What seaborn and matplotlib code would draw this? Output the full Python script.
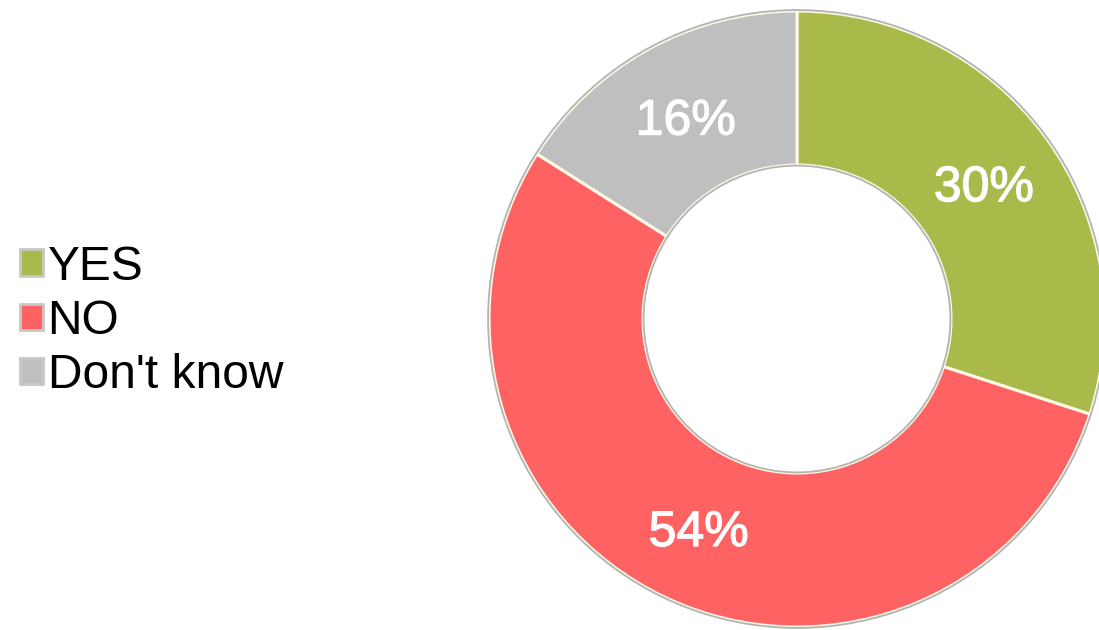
import matplotlib
matplotlib.use("Agg")
import matplotlib.pyplot as plt
import matplotlib.patheffects as pe
from matplotlib.transforms import offset_copy
import seaborn as sns
from matplotlib.patches import Patch, Circle

categories = ["YES", "NO", "Don't know"]
shares = [30, 54, 16]
slice_colors = ["#a9ba4a", "#fe6262", "#bfbfbf"]

sns.set_theme(style="white")
plt.rcParams["font.family"] = ["Liberation Sans", "DejaVu Sans"]

fig = plt.figure(figsize=(10.99, 6.30), dpi=100)
fig.patch.set_facecolor("white")

# donut axes: centre at (797, 319) px, outer radius 308 px
W, H = 1099, 630
cx, cy, R = 797, 319, 308
ax = fig.add_axes([(cx - R) / W, (H - cy - R) / H, 2 * R / W, 2 * R / H])

wedges, texts, autotexts = ax.pie(
    shares,
    colors=slice_colors,
    startangle=90,
    counterclock=False,
    radius=1.0,
    autopct=lambda p: f"{p:.0f}%",
    pctdistance=0.75,
    wedgeprops=dict(width=0.5, edgecolor="#fdf9e6", linewidth=2.2),
    textprops=dict(color="white", fontsize=36),
)
ax.set_xlim(-1, 1)
ax.set_ylim(-1, 1)
ax.set_aspect("equal")
ax.axis("off")
for w in wedges:
    w.set_clip_on(False)

# nudge the percentage labels slightly down and thicken their strokes a bit
label_tf = offset_copy(ax.transData, fig=fig, x=0, y=-5, units="dots")
for t in autotexts:
    t.set_transform(label_tf)
    t.set_path_effects([pe.withStroke(linewidth=0.9, foreground="white")])

# thin grey rims around the ring
for r in (1.003, 0.498):
    ax.add_patch(Circle((0, 0), r, fill=False, edgecolor="#b4b4b4",
                        linewidth=1.3, clip_on=False))

handles = [Patch(facecolor=c, edgecolor="#c8c8c8", linewidth=2) for c in slice_colors]
fig.legend(
    handles, categories,
    loc="center left",
    bbox_to_anchor=(0.001, 0.490),
    frameon=False,
    fontsize=34.5,
    labelcolor="black",
    handlelength=0.47,
    handleheight=0.47,
    handletextpad=0.1,
    labelspacing=0.19,
    borderaxespad=0,
)

fig.savefig("out.png", dpi=100, facecolor="white")
